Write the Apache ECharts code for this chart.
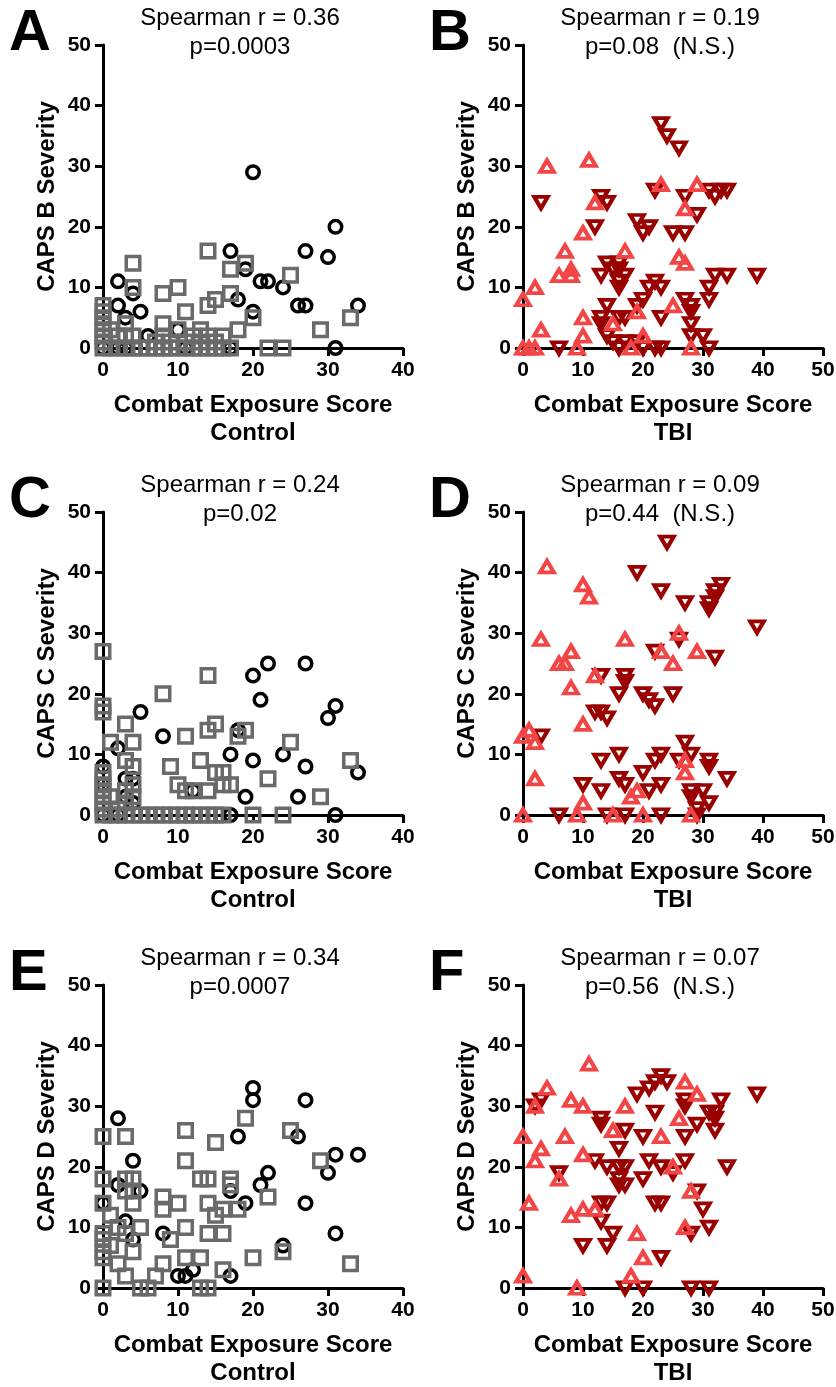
<!DOCTYPE html>
<html><head><meta charset="utf-8">
<script src="https://cdn.jsdelivr.net/npm/echarts@6/dist/echarts.min.js"></script>
<style>html,body{margin:0;padding:0;background:#fff}#c{width:836px;height:1387px}</style>
</head><body><div id="c"></div>
<script>
// ---------- DATA ----------
const panelLetters = ['A','B','C','D','E','F'];
const spearmanR = ['0.36','0.19','0.24','0.09','0.34','0.07'];
const pValues = ['p=0.0003','p=0.08  (N.S.)','p=0.02','p=0.44  (N.S.)','p=0.0007','p=0.56  (N.S.)'];
const yNames = ['CAPS B Severity','CAPS B Severity','CAPS C Severity','CAPS C Severity','CAPS D Severity','CAPS D Severity'];
const xName = 'Combat Exposure Score';
const groupNames = ['Control','TBI','Control','TBI','Control','TBI'];
const xMaxControl = 40, xMaxTBI = 50, yMax = 50, tickStep = 10;

// Panel A (Control, CAPS B)
const aCircles = [[20,29],[31,20],[27,16],[30,15],[17,16],[19,13],[21,11],[22,11],[24,10],[26,7],[27,7],[34,7],[31,0],[18,8],[20,6],[2,11],[4,9],[2,7],[5,6],[6,2],[11,0],[17,0],[0,0],[3,0],[10,3],[2,0],[3,5]];
const aSquares = [[14,16],[4,14],[19,14],[17,13],[25,12],[4,10],[10,10],[8,9],[17,9],[15,8],[14,7],[11,6],[20,5],[33,5],[8,4],[29,3],[18,3],[10,3],[13,3],[12,2],[16,2],[22,0],[24,0],
  [0,7],[0,6],[0,5],[0,4],[0,3],[0,2],[0,1],[0,0],[3,4],[3,2],[3,0],[1,0],[2,0],[4,0],[5,0],[6,0],[7,0],[8,0],[9,0],[10,0],[11,0],[12,0],[13,0],[14,0],[15,0],[16,0],[17,0],
  [2,2],[4,2],[7,1],[8,2],[9,1],[11,1],[13,1],[14,2],[15,1],[1,3]];
// Panel B (TBI, CAPS B)
const bDown = [[23,37],[24,35],[26,33],[3,24],[13,25],[14,24],[12,20],[22,26],[27,25],[29,22],[31,26],[32,25],[33,26],[34,26],[19,21],[20,19],[21,20],[25,19],[27,19],[13,12],[14,14],[16,14],[16,13],[17,12],[15,13],[16,11],[16,10],[14,7],[17,5],[13,5],[14,2],[15,1],[13,4],[16,5],[19,7],[21,10],[22,11],[23,10],[23,5],[20,8],[27,8],[28,7],[28,6],[28,4],[28,2],[30,2],[31,0],[31,10],[31,8],[32,12],[34,12],[39,12],[6,0],[17,1],[20,0],[22,0],[23,0],[16,0],[19,1]];
const bUp = [[4,30],[11,31],[23,27],[29,27],[12,24],[27,23],[10,19],[7,16],[17,16],[8,13],[6,12],[8,12],[26,15],[27,14],[2,10],[0,8],[3,3],[10,5],[10,2],[9,0],[15,4],[19,6],[25,7],[20,2],[18,0],[28,0],[0,0],[1,0],[2,0]];
// Panel C (Control, CAPS C)
const cCircles = [[22,25],[27,25],[20,23],[21,19],[31,18],[30,16],[5,17],[8,13],[18,14],[17,10],[20,9],[24,10],[27,8],[34,7],[2,11],[0,8],[3,6],[4,6],[3,3],[4,2],[19,3],[26,3],[31,0],[17,0],[12,4],[0,5],[0,0],[2,0]];
const cSquares = [[0,27],[0,18],[0,17],[8,20],[14,23],[3,15],[4,12],[1,12],[11,13],[14,14],[15,15],[18,13],[19,14],[25,12],[33,9],[9,8],[13,9],[4,8],[3,9],[15,7],[16,7],[22,6],[10,5],[11,4],[12,4],[14,4],[16,5],[17,5],[29,3],[20,0],[24,0],
  [0,1],[0,2],[0,3],[0,4],[0,5],[0,6],[0,7],[3,2],[3,4],[4,3],[4,5],[2,1],[1,3],
  [0,0],[1,0],[2,0],[3,0],[4,0],[5,0],[6,0],[7,0],[8,0],[9,0],[10,0],[11,0],[12,0],[13,0],[14,0],[15,0],[16,0]];
// Panel D (TBI, CAPS C)
const dDown = [[24,45],[19,40],[23,37],[27,35],[33,38],[32,37],[32,36],[31,34],[31,35],[39,31],[26,29],[22,27],[32,26],[13,23],[17,23],[17,22],[16,20],[20,20],[21,19],[22,18],[25,20],[12,17],[13,17],[14,16],[3,13],[13,9],[16,10],[22,9],[23,10],[27,12],[26,9],[28,10],[31,9],[31,8],[34,6],[10,5],[13,4],[16,6],[17,5],[20,7],[23,5],[21,4],[28,4],[28,3],[30,4],[31,2],[6,0],[14,0],[17,0],[23,0],[29,0],[29,1]];
const dUp = [[4,41],[10,38],[11,36],[3,29],[17,29],[26,30],[23,27],[29,27],[25,25],[8,27],[6,25],[7,25],[12,23],[8,21],[10,15],[0,13],[1,14],[2,12],[2,6],[27,9],[27,7],[18,3],[19,4],[10,2],[0,0],[9,0],[15,0],[20,0],[28,0]];
// Panel E (Control, CAPS D)
const eCircles = [[20,33],[20,31],[27,31],[2,28],[18,25],[26,25],[31,22],[34,22],[30,19],[22,19],[21,17],[4,21],[2,17],[5,16],[17,16],[19,14],[27,14],[3,11],[8,9],[4,8],[31,9],[24,7],[10,2],[12,3],[17,2],[0,14],[11,2]];
const eSquares = [[19,28],[11,26],[25,26],[0,25],[3,25],[15,24],[11,21],[29,21],[0,18],[3,18],[4,18],[13,18],[14,18],[17,18],[17,17],[22,15],[0,14],[4,14],[8,15],[10,14],[14,14],[15,12],[16,13],[18,13],[8,13],[11,10],[14,9],[16,9],[5,10],[0,9],[0,8],[0,6],[3,9],[4,6],[1,12],[2,10],[9,8],[11,5],[13,5],[8,4],[7,2],[3,2],[2,4],[16,3],[20,5],[24,6],[33,4],[0,0],[5,0],[6,0],[13,0],[14,0],[0,5],[1,7],[3,16],[4,16]];
// Panel F (TBI, CAPS D)
const fDown = [[23,35],[22,34],[24,34],[21,33],[19,32],[39,32],[27,31],[27,30],[33,31],[32,29],[31,29],[29,27],[32,28],[32,26],[22,29],[13,28],[13,27],[17,26],[16,23],[20,25],[27,25],[12,21],[14,20],[16,20],[17,20],[21,21],[23,20],[27,21],[34,20],[6,19],[16,18],[17,17],[16,17],[20,18],[25,19],[13,14],[14,14],[22,14],[23,14],[29,16],[30,13],[13,11],[15,9],[28,9],[31,10],[10,7],[14,7],[23,5],[17,0],[20,0],[28,0],[31,0],[3,31],[2,30]];
const fUp = [[11,37],[4,33],[2,30],[8,31],[10,30],[17,30],[27,34],[29,32],[26,28],[0,25],[7,25],[15,26],[23,25],[3,23],[2,21],[10,22],[25,20],[6,18],[1,14],[8,12],[10,13],[12,13],[28,16],[27,10],[19,9],[20,5],[18,2],[0,2],[9,0]];

// ---------- LAYOUT / STYLE ----------
const FONT = '"Liberation Sans", Arial, sans-serif';
const colLeft = [103, 523];
const rowTop = [45, 512, 985];
const plotW = 300, plotH = 303;
const panelSeries = [
  [{d:aCircles,t:'circle'},{d:aSquares,t:'square'}],
  [{d:bDown,t:'down'},{d:bUp,t:'up'}],
  [{d:cCircles,t:'circle'},{d:cSquares,t:'square'}],
  [{d:dDown,t:'down'},{d:dUp,t:'up'}],
  [{d:eCircles,t:'circle'},{d:eSquares,t:'square'}],
  [{d:fDown,t:'down'},{d:fUp,t:'up'}]
];
const symStyles = {
  circle: {symbol:'circle', size:12.5, color:'#000000', rotate:0, bw:3.5},
  square: {symbol:'rect', size:13.5, color:'#6a6a6a', rotate:0, bw:3.5},
  up:     {symbol:'triangle', size:[13.5,11.5], color:'#f24646', rotate:0, bw:4},
  down:   {symbol:'triangle', size:[13.5,11.5], color:'#990000', rotate:180, bw:4}
};

const grids=[], xAxes=[], yAxes=[], series=[], titles=[];
for (let i=0;i<6;i++){
  const col=i%2, row=Math.floor(i/2);
  const left=colLeft[col], top=rowTop[row];
  grids.push({left:left, top:top, width:plotW, height:plotH, containLabel:false, outerBoundsMode:'none'});
  const xmax = col===0 ? xMaxControl : xMaxTBI;
  xAxes.push({
    gridIndex:i, type:'value', min:0, max:xmax, interval:tickStep,
    axisLine:{show:true, onZero:false, lineStyle:{color:'#000', width:3}},
    axisTick:{show:true, length:8, lineStyle:{color:'#000', width:3}},
    axisLabel:{show:true, showMinLabel:true, showMaxLabel:true, fontSize:21, fontWeight:'bold', color:'#000', margin:12, fontFamily:FONT},
    splitLine:{show:false},
    name: xName + '\n' + groupNames[i], nameLocation:'middle', nameGap:43,
    nameTextStyle:{fontSize:24, fontWeight:'bold', color:'#000', lineHeight:28, fontFamily:FONT}
  });
  yAxes.push({
    gridIndex:i, type:'value', min:0, max:yMax, interval:tickStep,
    axisLine:{show:true, onZero:false, lineStyle:{color:'#000', width:3}},
    axisTick:{show:true, length:8, lineStyle:{color:'#000', width:3}},
    axisLabel:{show:true, showMinLabel:true, showMaxLabel:true, fontSize:21, fontWeight:'bold', color:'#000', margin:12, fontFamily:FONT},
    splitLine:{show:false},
    name: yNames[i], nameLocation:'middle', nameGap:44, nameRotate:90,
    nameTextStyle:{fontSize:24, fontWeight:'bold', color:'#000', fontFamily:FONT}
  });
  panelSeries[i].forEach(s=>{
    const st=symStyles[s.t];
    series.push({
      type:'scatter', xAxisIndex:i, yAxisIndex:i, data:s.d, clip:false, silent:true,
      symbol:st.symbol, symbolSize:st.size, symbolRotate:st.rotate,
      itemStyle:{color:'rgba(0,0,0,0)', borderColor:st.color, borderWidth:st.bw, opacity:1}
    });
  });
  titles.push({
    text:'Spearman r = ' + spearmanR[i] + '\n' + pValues[i],
    left: left + plotW/2 - 13, top: top - 41, textAlign:'center', padding:0,
    textStyle:{fontSize:24, fontWeight:'normal', color:'#000', lineHeight:29, fontFamily:FONT}
  });
  titles.push({
    text: panelLetters[i], left: left - 94, top: top - 40, padding:0,
    textStyle:{fontSize:58, fontWeight:'bold', color:'#000', lineHeight:58, fontFamily:FONT}
  });
}

const chart = echarts.init(document.getElementById('c'), null, {renderer:'canvas'});
chart.setOption({
  animation:false, backgroundColor:'#fff',
  title:titles, grid:grids, xAxis:xAxes, yAxis:yAxes, series:series
});
</script></body></html>
